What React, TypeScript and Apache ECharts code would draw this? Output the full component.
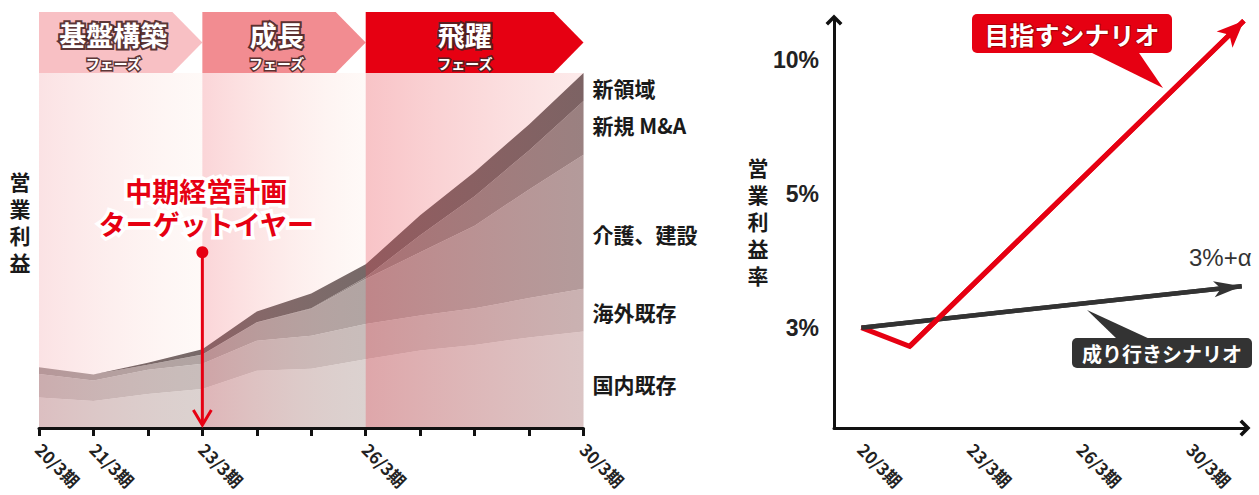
import React, { useEffect, useRef } from 'react';
import * as echarts from 'echarts';

// ---------------- Left chart data ----------------
const periods = ['20/3期', '21/3期', '22/3期', '23/3期', '24/3期', '25/3期', '26/3期', '27/3期', '28/3期', '29/3期', '30/3期'];
const labeledPeriods = ['20/3期', '21/3期', '23/3期', '26/3期', '30/3期'];
const layerNames = ['国内既存', '海外既存', '介護、建設', '新規 M&A', '新領域'];
const domestic = [8.6, 7.6, 9.6, 11.0, 16.1, 16.7, 19.4, 21.8, 23.4, 25.5, 27.2];
const overseas = [6.6, 5.8, 6.8, 7.1, 8.5, 9.3, 9.9, 9.9, 10.3, 11.1, 12.0];
const careConstruction = [1.9, 1.7, 1.4, 2.5, 5.1, 7.6, 12.7, 17.8, 23.3, 30.6, 37.8];
const newMA = [0, 0, 0, 0.1, 0.1, 0.1, 0.5, 4.8, 8.3, 11.0, 15.1];
const newDomain = [0, 0, 0.6, 1.5, 3.0, 4.2, 3.6, 5.6, 6.8, 7.3, 7.9];
const layers = [domestic, overseas, careConstruction, newMA, newDomain];
const phaseNames = ['基盤構築', '成長', '飛躍'];
const phaseSub = 'フェーズ';
const phaseBounds = ['20/3期', '23/3期', '26/3期', '30/3期'];
const targetYear = '23/3期';
const targetMarkerValue = 49.5;
const targetTitle = ['中期経営計画', 'ターゲットイヤー'];
const leftAxisTitle = '営業利益';

// ---------------- Right chart data ----------------
const scenarioPeriods = ['20/3期', '23/3期', '26/3期', '30/3期'];
const marginLevels = ['3%', '5%', '10%'];
const targetScenario = [[0, 1.0], [0.44, 0.86], [3.49, 3.295]];
const currentScenario = [[0, 1.0], [3.47, 1.31]];
const rightAxisTitle = '営業利益率';
const targetScenarioName = '目指すシナリオ';
const currentScenarioName = '成り行きシナリオ';
const currentScenarioTag = '3%+α';

// ---------------- Styles ----------------
const RED = '#e60012';
const CJK = "'Noto Sans CJK JP', 'Noto Sans', sans-serif";
const LATIN = "'Liberation Sans', Arial, 'Noto Sans CJK JP', sans-serif";
const layerColors = ['#d8d3d3', '#c3bcbc', '#a9a1a1', '#8b8282', '#685f60'];
const phaseColors = ['#f8c0c4', '#f28c91', RED];
const phaseTint = [
  ['rgba(235,110,120,0.20)', 'rgba(250,200,180,0.10)'],
  ['rgba(240,100,110,0.27)', 'rgba(250,200,180,0.10)'],
  ['rgba(235,80,90,0.34)', 'rgba(240,120,120,0.15)'],
];
const labelNudge = [4, 2, 12, -3, 1];
const chevron = 'path://M0,10 L10,0 L20,10 L17,13 L10,6 L3,13 Z';

function buildOption() {
  return {
    animation: false,
    backgroundColor: '#ffffff',
    grid: [
      { left: 39, right: 1259 - 583.5, top: 73, bottom: 67 },
      { left: 834, right: 14, top: 20, bottom: 67 },
    ],
    xAxis: [
      {
        type: 'category',
        gridIndex: 0,
        data: periods,
        boundaryGap: false,
        z: 20,
        axisLine: { show: true, onZero: false, lineStyle: { color: '#111', width: 3 } },
        axisTick: { show: true, interval: 0, length: 8, lineStyle: { color: '#111', width: 3 } },
        axisLabel: {
          interval: (i: number, v: string) => labeledPeriods.includes(v),
          rotate: -45,
          margin: 18,
          color: '#222',
          fontSize: 17,
          fontWeight: 'bold',
          fontFamily: CJK,
        },
        splitLine: { show: false },
      },
      {
        type: 'value',
        gridIndex: 1,
        min: -0.25,
        max: 3.5,
        axisLine: {
          show: true,
          onZero: false,
          symbol: ['none', chevron],
          symbolSize: [18, 11],
          lineStyle: { color: '#111', width: 3 },
        },
        axisTick: { show: false },
        splitLine: { show: false },
        axisLabel: {
          customValues: [0, 1, 2, 3],
          formatter: (v: number) => scenarioPeriods[Math.round(v)] ?? '',
          rotate: -45,
          margin: 18,
          color: '#222',
          fontSize: 17,
          fontWeight: 'bold',
          fontFamily: CJK,
        },
      },
    ],
    yAxis: [
      { type: 'value', gridIndex: 0, min: 0, max: 100, show: false },
      {
        type: 'value',
        gridIndex: 1,
        min: 0.25,
        max: 3.3,
        axisLine: {
          show: true,
          onZero: false,
          symbol: ['none', chevron],
          symbolSize: [18, 11],
          lineStyle: { color: '#111', width: 3 },
        },
        axisTick: { show: false },
        splitLine: { show: false },
        axisLabel: {
          customValues: [1, 2, 3],
          formatter: (v: number) => marginLevels[Math.round(v) - 1] ?? '',
          margin: 15,
          color: '#222',
          fontSize: 23,
          fontWeight: 'bold',
          fontFamily: LATIN,
        },
      },
    ],
    series: [
      ...layers.map((vals, k) => ({
        type: 'line',
        name: layerNames[k],
        xAxisIndex: 0,
        yAxisIndex: 0,
        stack: 'profit',
        data: vals,
        showSymbol: false,
        symbol: 'none',
        silent: true,
        lineStyle: { width: 0 },
        areaStyle: { color: layerColors[k], opacity: 1 },
        z: 2,
      })),
      {
        type: 'line',
        xAxisIndex: 0,
        yAxisIndex: 0,
        data: [],
        silent: true,
        z: 5,
        markArea: {
          silent: true,
          z: 5,
          data: phaseNames.map((_, p) => [
            {
              xAxis: phaseBounds[p],
              itemStyle: {
                color: new echarts.graphic.LinearGradient(0, 0, 1, 0, [
                  { offset: 0, color: phaseTint[p][0] },
                  { offset: 1, color: phaseTint[p][1] },
                ]),
              },
            },
            { xAxis: phaseBounds[p + 1] },
          ]),
        },
      },
      {
        type: 'line',
        name: currentScenarioName,
        xAxisIndex: 1,
        yAxisIndex: 1,
        data: currentScenario,
        showSymbol: false,
        symbol: 'none',
        silent: true,
        clip: false,
        lineStyle: { color: '#333', width: 4.5, join: 'miter' },
        markLine: {
          silent: true,
          animation: false,
          label: { show: false },
          lineStyle: { color: '#333', width: 4.5, type: 'solid' },
          itemStyle: { color: '#333' },
          data: [[
            { coord: currentScenario[currentScenario.length - 2], symbol: 'none' },
            { coord: currentScenario[currentScenario.length - 1], symbol: 'arrow', symbolSize: [12, 28] },
          ]],
        },
      },
      {
        type: 'line',
        name: targetScenarioName,
        xAxisIndex: 1,
        yAxisIndex: 1,
        data: targetScenario,
        showSymbol: false,
        symbol: 'none',
        silent: true,
        clip: false,
        lineStyle: { color: RED, width: 5, join: 'miter' },
        markLine: {
          silent: true,
          animation: false,
          label: { show: false },
          lineStyle: { color: RED, width: 5, type: 'solid' },
          itemStyle: { color: RED },
          data: [[
            { coord: targetScenario[targetScenario.length - 2], symbol: 'none' },
            { coord: targetScenario[targetScenario.length - 1], symbol: 'arrow', symbolSize: [17, 27] },
          ]],
        },
      },
    ],
  };
}

function textEl(text: string, x: number, y: number, font: string, fill: string, extra: any = {}) {
  const style: any = {
    text,
    font,
    fill,
    textAlign: extra.align || 'center',
    textVerticalAlign: extra.valign || 'middle',
    align: extra.align || 'center',
    verticalAlign: extra.valign || 'middle',
  };
  if (extra.lineHeight) style.lineHeight = extra.lineHeight;
  if (extra.stroke) {
    style.stroke = extra.stroke;
    style.lineWidth = extra.lineWidth;
    style.strokeFirst = true;
  }
  return { type: 'text', x, y, z: extra.z || 60, silent: true, style };
}

function verticalTitle(els: any[], title: string, x: number, firstCenterY: number, step: number) {
  title.split('').forEach((ch, i) => {
    els.push(textEl(ch, x, firstCenterY + i * step, `bold 21px ${CJK}`, '#1a1a1a'));
  });
}

function buildGraphics(chart: any) {
  const px = (g: number, x: number, y: number) => chart.convertToPixel({ gridIndex: g }, [x, y]);
  const idx = (name: string) => periods.indexOf(name);
  const els: any[] = [];
  const last = periods.length - 1;

  // Phase banners
  const bTop = 12;
  const bBottom = px(0, 0, 100)[1];
  const bMid = (bTop + bBottom) / 2;
  const depth = 30;
  const outline = 'rgba(70,35,35,0.9)';
  phaseNames.forEach((name, p) => {
    const x0 = px(0, idx(phaseBounds[p]), 0)[0];
    const x1 = px(0, idx(phaseBounds[p + 1]), 0)[0];
    els.push({
      type: 'polygon',
      z: 50,
      silent: true,
      shape: { points: [[x0, bTop], [x1 - depth, bTop], [x1, bMid], [x1 - depth, bBottom], [x0, bBottom]] },
      style: { fill: phaseColors[p] },
    });
    const cx = x0 + (x1 - x0) * 0.455;
    els.push(textEl(name, cx, 34, `bold 27px ${CJK}`, '#ffffff', { stroke: outline, lineWidth: 4 }));
    els.push(textEl(phaseSub, cx, 63, `bold 14px ${CJK}`, '#ffffff', { stroke: outline, lineWidth: 3 }));
  });

  // Left axis title
  verticalTitle(els, leftAxisTitle, 20, 181, 27);

  // Layer labels at the right end
  let cum = 0;
  layers.forEach((vals, k) => {
    const v = vals[last];
    const mid = cum + v / 2;
    cum += v;
    const [x, y] = px(0, last, mid);
    els.push(textEl(layerNames[k], x + 9, y + labelNudge[k], `bold 21px ${CJK}`, '#1a1a1a', { align: 'left' }));
  });

  // Target-year annotation
  const ti = idx(targetYear);
  const [ax, ay] = px(0, ti, targetMarkerValue);
  const by = px(0, ti, 0)[1];
  els.push({ type: 'line', z: 55, silent: true, shape: { x1: ax, y1: ay, x2: ax, y2: by - 3 }, style: { stroke: RED, lineWidth: 3 } });
  els.push({ type: 'polyline', z: 55, silent: true, shape: { points: [[ax - 9, by - 18], [ax, by - 3], [ax + 9, by - 18]] }, style: { stroke: RED, lineWidth: 3, fill: null } });
  els.push({ type: 'circle', z: 55, silent: true, shape: { cx: ax, cy: ay, r: 6 }, style: { fill: RED } });
  const tY = [190.5, 223];
  targetTitle.forEach((t, i) => {
    els.push(textEl(t, ax + 4, tY[i], `bold 27px ${CJK}`, RED, { stroke: '#ffffff', lineWidth: 7 }));
  });

  // Right axis title
  verticalTitle(els, rightAxisTitle, 758, 167, 27);

  // Target scenario callout
  els.push({ type: 'polygon', z: 50, silent: true, shape: { points: [[1086, 50], [1137, 50], [1163, 88]] }, style: { fill: RED } });
  els.push({ type: 'rect', z: 50, silent: true, shape: { x: 972, y: 14, width: 200, height: 39, r: 5 }, style: { fill: RED } });
  els.push(textEl(targetScenarioName, 1072, 33.5, `bold 25px ${CJK}`, '#ffffff', { stroke: 'rgba(120,0,0,0.5)', lineWidth: 2 }));

  // Current scenario callout
  els.push({ type: 'polygon', z: 50, silent: true, shape: { points: [[1087, 310], [1118, 340], [1152, 340]] }, style: { fill: '#333333' } });
  els.push({ type: 'rect', z: 50, silent: true, shape: { x: 1072, y: 338, width: 180, height: 30, r: 5 }, style: { fill: '#333333' } });
  els.push(textEl(currentScenarioName, 1162, 353.5, `bold 20px ${CJK}`, '#ffffff'));

  // 3%+α
  els.push(textEl(currentScenarioTag, 1189, 257, `24px ${LATIN}`, '#333333', { align: 'left' }));

  return els;
}

export default function App() {
  const ref = useRef<HTMLDivElement>(null);
  useEffect(() => {
    document.body.style.margin = '0';
    const chart = echarts.init(ref.current as HTMLDivElement, null, { renderer: 'svg' });
    chart.setOption(buildOption() as any);
    chart.setOption({ graphic: { elements: buildGraphics(chart) } } as any);
    return () => chart.dispose();
  }, []);
  return <div ref={ref} style={{ width: 1259, height: 495 }} />;
}
